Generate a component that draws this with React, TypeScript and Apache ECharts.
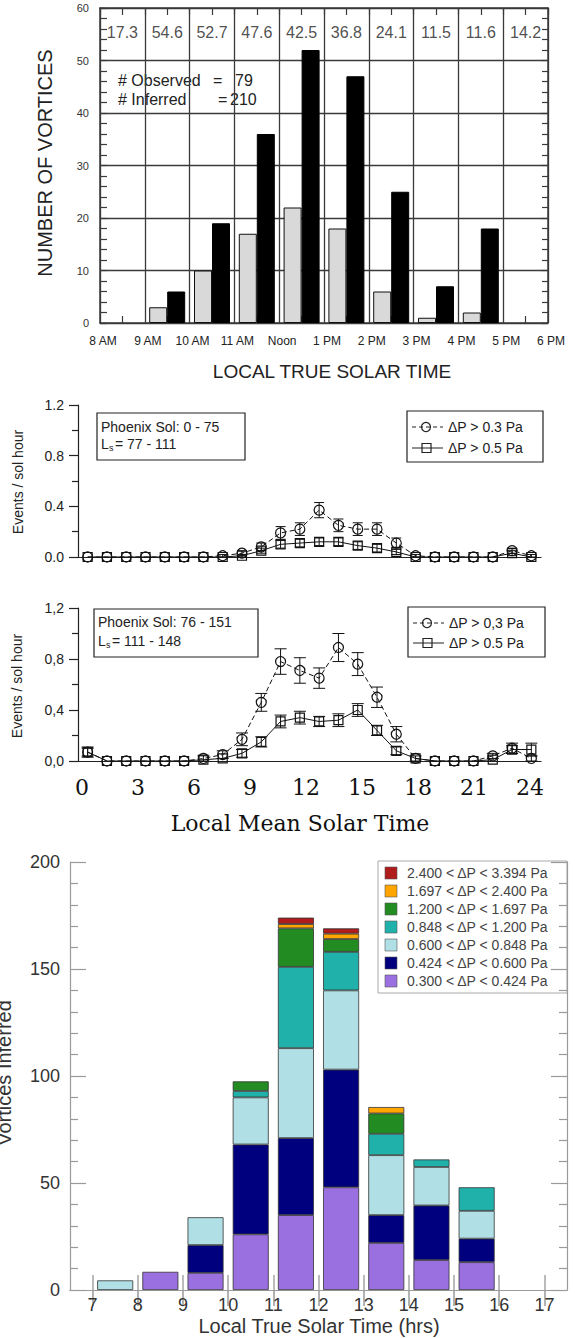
import React, { useEffect, useRef } from "react";
import * as echarts from "echarts";

const FONT = "'Liberation Sans', Arial, Helvetica, sans-serif";
const SERIF = "'DejaVu Serif', serif";

// ---------- Panel 1: hourly vortex counts ----------
const p1HourCats = ["8", "9", "10", "11", "12", "13", "14", "15", "16", "17"];
const p1Observed = [null, 3, 10, 17, 22, 18, 6, 1, 2, null];
const p1Inferred = [null, 6, 19, 36, 52, 47, 25, 7, 18, null];
const p1HourlyRates = ["17.3", "54.6", "52.7", "47.6", "42.5", "36.8", "24.1", "11.5", "11.6", "14.2"];
const p1RateLevel = 55.4;
const p1TickLabels = ["8 AM", "9 AM", "10 AM", "11 AM", "Noon", "1 PM", "2 PM", "3 PM", "4 PM", "5 PM", "6 PM"];

// ---------- Panels 2 & 3: events per sol hour ----------
const lmstHours = [0.5, 1.5, 2.5, 3.5, 4.5, 5.5, 6.5, 7.5, 8.5, 9.5, 10.5, 11.5, 12.5, 13.5, 14.5, 15.5, 16.5, 17.5, 18.5, 19.5, 20.5, 21.5, 22.5, 23.5];
const solA_dp03 = [0, 0, 0, 0, 0, 0, 0, 0.01, 0.03, 0.08, 0.19, 0.22, 0.37, 0.25, 0.22, 0.22, 0.11, 0.01, 0, 0, 0, 0, 0.05, 0.01];
const solA_dp03Err = [0, 0, 0, 0, 0, 0, 0, 0.01, 0.02, 0.03, 0.05, 0.05, 0.06, 0.05, 0.05, 0.05, 0.04, 0.01, 0, 0, 0, 0, 0.02, 0.01];
const solA_dp05 = [0, 0, 0, 0, 0, 0, 0, 0, 0.01, 0.05, 0.1, 0.11, 0.12, 0.12, 0.09, 0.07, 0.04, 0, 0, 0, 0, 0, 0.03, 0];
const solA_dp05Err = [0, 0, 0, 0, 0, 0, 0, 0, 0.01, 0.02, 0.03, 0.03, 0.03, 0.03, 0.03, 0.03, 0.02, 0, 0, 0, 0, 0, 0.02, 0];
const solB_dp03 = [0.07, 0, 0, 0, 0, 0, 0.02, 0.05, 0.17, 0.46, 0.78, 0.71, 0.65, 0.89, 0.76, 0.5, 0.21, 0.02, 0, 0, 0, 0.04, 0.1, 0.02];
const solB_dp03Err = [0.04, 0, 0, 0, 0, 0, 0.02, 0.03, 0.05, 0.07, 0.1, 0.1, 0.08, 0.11, 0.09, 0.08, 0.06, 0.02, 0, 0, 0, 0.02, 0.04, 0.02];
const solB_dp05 = [0.07, 0, 0, 0, 0, 0, 0.01, 0.02, 0.06, 0.15, 0.31, 0.34, 0.31, 0.32, 0.4, 0.24, 0.08, 0.02, 0, 0, 0, 0.01, 0.09, 0.09];
const solB_dp05Err = [0.03, 0, 0, 0, 0, 0, 0, 0, 0.03, 0.04, 0.05, 0.05, 0.04, 0.05, 0.05, 0.04, 0.03, 0, 0, 0, 0, 0, 0.03, 0.05];

// ---------- Panel 4: stacked by pressure drop ----------
const ltstBins = ["7-8", "8-9", "9-10", "10-11", "11-12", "12-13", "13-14", "14-15", "15-16", "16-17"];
const ltstTicks = [7, 8, 9, 10, 11, 12, 13, 14, 15, 16, 17];
const dpLabels = [
  "0.300 < ΔP < 0.424 Pa",
  "0.424 < ΔP < 0.600 Pa",
  "0.600 < ΔP < 0.848 Pa",
  "0.848 < ΔP < 1.200 Pa",
  "1.200 < ΔP < 1.697 Pa",
  "1.697 < ΔP < 2.400 Pa",
  "2.400 < ΔP < 3.394 Pa",
];
const dpColors = ["#9a6fe0", "#00007f", "#b0e0e6", "#20b2aa", "#228b22", "#ffa500", "#b01c1c"];
const dp0300 = [null, 8.5, 8, 26, 35, 48, 22, 14, 13, null];
const dp0424 = [null, null, 13, 42, 36, 55, 13, 25.5, 11, null];
const dp0600 = [4.5, null, 13, 22, 42, 37, 28, 18, 13, null];
const dp0848 = [null, null, null, 3, 38, 18, 10, 3.5, 11, null];
const dp1200 = [null, null, null, 4.5, 18, 6, 9.5, null, null, null];
const dp1697 = [null, null, null, null, 2, 2.5, 3, null, null, null];
const dp2400 = [null, null, null, null, 3, 2.5, null, null, null, null];
const dpSeriesValues = [dp0300, dp0424, dp0600, dp0848, dp1200, dp1697, dp2400];

function errorBars(xi: number, yi: number, ys: number[], errs: number[], cap: number) {
  return {
    type: "custom",
    xAxisIndex: xi,
    yAxisIndex: yi,
    silent: true,
    z: 2,
    encode: { x: 0, y: [1, 2] },
    data: lmstHours
      .map((h, i) => [h, Math.max(0, ys[i] - errs[i]), ys[i] + errs[i], errs[i]])
      .filter((d) => d[3] > 0),
    renderItem: (_p: any, api: any) => {
      const lo = api.coord([api.value(0), api.value(1)]);
      const hi = api.coord([api.value(0), api.value(2)]);
      const st = { stroke: "#111", lineWidth: 1 };
      return {
        type: "group",
        children: [
          { type: "line", shape: { x1: lo[0], y1: lo[1], x2: hi[0], y2: hi[1] }, style: st },
          { type: "line", shape: { x1: lo[0] - cap, y1: lo[1], x2: lo[0] + cap, y2: lo[1] }, style: st },
          { type: "line", shape: { x1: hi[0] - cap, y1: hi[1], x2: hi[0] + cap, y2: hi[1] }, style: st },
        ],
      };
    },
  };
}

function lineSeries(xi: number, yi: number, ys: number[], symbol: string, dashed: boolean) {
  return {
    type: "line",
    xAxisIndex: xi,
    yAxisIndex: yi,
    z: 3,
    silent: true,
    showAllSymbol: true,
    data: lmstHours.map((h, i) => [h, ys[i]]),
    symbol,
    symbolSize: symbol === "circle" ? 10 : 9,
    itemStyle: { color: "rgba(255,255,255,0)", borderColor: "#111", borderWidth: 1.2 },
    lineStyle: { color: "#111", width: 1, type: dashed ? [5, 3] : "solid" },
  };
}

function eventsYAxis(grid: number, comma: boolean) {
  return {
    gridIndex: grid,
    type: "value",
    min: 0,
    max: 1.2,
    interval: 0.4,
    axisLine: { show: true, lineStyle: { color: "#222", width: 1.2 } },
    axisTick: { show: true, inside: false, length: 9, lineStyle: { color: "#222", width: 1.2 } },
    minorTick: { show: true, splitNumber: 2, length: 6, lineStyle: { color: "#222", width: 1.2 } },
    splitLine: { show: false },
    axisLabel: {
      fontSize: 14,
      color: "#222",
      margin: 14,
      fontFamily: FONT,
      formatter: (v: number) => (comma ? v.toFixed(1).replace(".", ",") : v.toFixed(1)),
    },
  };
}

function eventsXAxis(grid: number) {
  return {
    gridIndex: grid,
    type: "value",
    position: "bottom",
    min: 0,
    max: 24,
    axisLine: { show: true, onZero: false, lineStyle: { color: "#222", width: 1.2 } },
    axisTick: { show: false },
    axisLabel: { show: false },
    splitLine: { show: false },
  };
}

function legendBox(x: number, y: number, w: number, h: number, r1: number, r2: number, t1: string, t2: string) {
  const s = { stroke: "#222", lineWidth: 1 };
  return [
    { type: "rect", shape: { x, y, width: w, height: h }, style: { fill: "#fff", stroke: "#222", lineWidth: 1.2 } },
    { type: "line", shape: { x1: x + 5, y1: r1, x2: x + 36, y2: r1 }, style: { ...s, lineDash: [4, 3] } },
    { type: "circle", shape: { cx: x + 19, cy: r1, r: 4.5 }, style: { fill: "rgba(0,0,0,0)", ...s, lineWidth: 1.2 } },
    { type: "text", x: x + 41, y: r1, style: { text: t1, fontSize: 14, fontFamily: FONT, fill: "#222", align: "left", verticalAlign: "middle" } },
    { type: "line", shape: { x1: x + 5, y1: r2, x2: x + 36, y2: r2 }, style: s },
    { type: "rect", shape: { x: x + 15, y: r2 - 4.5, width: 9, height: 9 }, style: { fill: "rgba(0,0,0,0)", ...s, lineWidth: 1.2 } },
    { type: "text", x: x + 41, y: r2, style: { text: t2, fontSize: 14, fontFamily: FONT, fill: "#222", align: "left", verticalAlign: "middle" } },
  ];
}

function infoBox(x: number, y: number, w: number, h: number, r1: number, r2: number, t1: string, t2: string) {
  const ts = { fontSize: 14, fontFamily: FONT, fill: "#222", align: "left", verticalAlign: "middle" };
  return [
    { type: "rect", shape: { x, y, width: w, height: h }, style: { fill: "#fff", stroke: "#222", lineWidth: 1.2 } },
    { type: "text", x: x + 4, y: r1, style: { ...ts, text: t1 } },
    { type: "text", x: x + 4, y: r2, style: { ...ts, text: "L" } },
    { type: "text", x: x + 12, y: r2 + 4, style: { ...ts, fontSize: 9, text: "s" } },
    { type: "text", x: x + 18, y: r2, style: { ...ts, text: t2 } },
  ];
}

export default function App() {
  const ref = useRef<HTMLDivElement>(null);

  useEffect(() => {
    if (!ref.current) return;
    const chart = echarts.init(ref.current, null, { renderer: "svg" });
    const dark = "#3a3a3a";
    const gray = "#9a9a9a";
    const hourPx = 497 / 11;

    const option: any = {
      animation: false,
      textStyle: { fontFamily: FONT },
      grid: [
        { left: 100, top: 8, width: 448, height: 315, outerBoundsMode: "none" },
        { left: 78, top: 405, width: 463, height: 152, outerBoundsMode: "none" },
        { left: 78, top: 608, width: 463, height: 153, outerBoundsMode: "none" },
        { left: 82, top: 762, width: 448, height: 2, outerBoundsMode: "none" },
        { left: 70, top: 862, width: 497, height: 428, outerBoundsMode: "none" },
        { left: 70 + hourPx * 0.5, top: 862, width: hourPx * 10, height: 428, outerBoundsMode: "none" },
      ],
      xAxis: [
        { gridIndex: 0, type: "category", position: "bottom", data: p1HourCats, show: false },
        {
          gridIndex: 0,
          type: "value",
          position: "bottom",
          min: 8,
          max: 18,
          interval: 1,
          axisLine: { show: true, lineStyle: { color: dark, width: 1.5 } },
          axisTick: { show: false, inside: true },
          minorTick: { show: true, splitNumber: 2, length: 7, lineStyle: { color: dark, width: 1.2 } },
          splitLine: { show: true, lineStyle: { color: dark, width: 1.3 } },
          axisLabel: {
            fontSize: 12,
            color: "#222",
            margin: 12,
            padding: [0, 0, 0, 6],
            showMaxLabel: true,
            showMinLabel: true,
            formatter: (v: number) => p1TickLabels[Math.round(v - 8)] ?? "",
          },
        },
        {
          gridIndex: 0,
          type: "value",
          position: "top",
          min: 8,
          max: 18,
          interval: 0.5,
          axisLine: { show: true, lineStyle: { color: dark, width: 1.5 } },
          axisTick: { show: true, inside: true, length: 7, lineStyle: { color: dark, width: 1.2 } },
          axisLabel: { show: false },
          splitLine: { show: false },
        },
        eventsXAxis(1),
        eventsXAxis(2),
        {
          gridIndex: 3,
          type: "value",
          position: "bottom",
          min: 0,
          max: 24,
          interval: 3,
          axisLine: { show: false },
          axisTick: { show: false },
          splitLine: { show: false },
          axisLabel: { fontSize: 22, fontFamily: SERIF, color: "#111", margin: 12 },
        },
        {
          gridIndex: 4,
          type: "value",
          position: "bottom",
          min: 6.5,
          max: 17.5,
          axisLine: { show: true, lineStyle: { color: gray, width: 1.2 } },
          axisTick: { show: true, inside: true, length: 15, customValues: ltstTicks, lineStyle: { color: "#bbb", width: 2 } },
          axisLabel: { customValues: ltstTicks, fontSize: 18, color: "#333", margin: 6 },
          splitLine: { show: false },
        },
        {
          gridIndex: 4,
          type: "value",
          position: "top",
          min: 6.5,
          max: 17.5,
          axisLine: { show: true, lineStyle: { color: gray, width: 1.2 } },
          axisTick: { show: true, inside: true, length: 16, customValues: ltstTicks, lineStyle: { color: gray, width: 1.5 } },
          axisLabel: { show: false },
          splitLine: { show: false },
        },
        { gridIndex: 5, type: "category", position: "bottom", data: ltstBins, show: false },
      ],
      yAxis: [
        {
          gridIndex: 0,
          type: "value",
          position: "left",
          min: 0,
          max: 60,
          interval: 10,
          axisLine: { show: true, lineStyle: { color: dark, width: 1.5 } },
          axisTick: { show: true, inside: true, length: 7, lineStyle: { color: dark, width: 1.2 } },
          minorTick: { show: true, splitNumber: 5, length: 7, lineStyle: { color: dark, width: 1.2 } },
          splitLine: { show: true, lineStyle: { color: dark, width: 1.3 } },
          axisLabel: { fontSize: 11, color: "#333", margin: 11 },
        },
        {
          gridIndex: 0,
          type: "value",
          position: "right",
          min: 0,
          max: 60,
          interval: 10,
          axisLine: { show: true, lineStyle: { color: dark, width: 1.5 } },
          axisTick: { show: true, inside: true, length: 7, lineStyle: { color: dark, width: 1.2 } },
          minorTick: { show: true, splitNumber: 5, length: 6, lineStyle: { color: dark, width: 1.2 } },
          splitLine: { show: false },
          axisLabel: { show: false },
        },
        eventsYAxis(1, false),
        eventsYAxis(2, true),
        { gridIndex: 3, type: "value", show: false },
        {
          gridIndex: 4,
          type: "value",
          position: "left",
          min: 0,
          max: 200,
          interval: 50,
          axisLine: { show: true, lineStyle: { color: gray, width: 1.2 } },
          axisTick: { show: true, inside: true, length: 16, lineStyle: { color: gray, width: 1.2 } },
          minorTick: { show: true, splitNumber: 5, length: 8, lineStyle: { color: gray, width: 1.2 } },
          splitLine: { show: false },
          axisLabel: { fontSize: 18, color: "#333", margin: 10 },
        },
        {
          gridIndex: 4,
          type: "value",
          position: "right",
          min: 0,
          max: 200,
          interval: 50,
          axisLine: { show: true, lineStyle: { color: gray, width: 1.2 } },
          axisTick: { show: true, inside: true, length: 16, lineStyle: { color: gray, width: 1.2 } },
          minorTick: { show: true, splitNumber: 5, length: 8, lineStyle: { color: gray, width: 1.2 } },
          splitLine: { show: false },
          axisLabel: { show: false },
        },
        { gridIndex: 5, type: "value", min: 0, max: 200, show: false },
      ],
      series: [
        {
          type: "bar",
          xAxisIndex: 0,
          yAxisIndex: 0,
          data: p1Observed,
          barWidth: 18,
          barGap: "0%",
          z: 3,
          itemStyle: { color: "#d9d9d9", borderColor: "#111", borderWidth: 1 },
        },
        {
          type: "bar",
          xAxisIndex: 0,
          yAxisIndex: 0,
          data: p1Inferred,
          barWidth: 18,
          barGap: "0%",
          z: 3,
          itemStyle: { color: "#000", borderColor: "#000", borderWidth: 1 },
        },
        {
          type: "scatter",
          xAxisIndex: 0,
          yAxisIndex: 0,
          data: p1HourCats.map((c) => [c, p1RateLevel]),
          symbol: "rect",
          symbolSize: 1,
          itemStyle: { color: "rgba(0,0,0,0)" },
          silent: true,
          label: {
            show: true,
            position: "inside",
            fontSize: 16,
            color: "#222",
            fontFamily: FONT,
            formatter: (p: any) => p1HourlyRates[p.dataIndex],
          },
        },
        errorBars(3, 2, solA_dp03, solA_dp03Err, 5),
        errorBars(3, 2, solA_dp05, solA_dp05Err, 5),
        lineSeries(3, 2, solA_dp03, "circle", true),
        lineSeries(3, 2, solA_dp05, "rect", false),
        errorBars(4, 3, solB_dp03, solB_dp03Err, 6),
        errorBars(4, 3, solB_dp05, solB_dp05Err, 6),
        lineSeries(4, 3, solB_dp03, "circle", true),
        lineSeries(4, 3, solB_dp05, "rect", false),
        ...dpSeriesValues.map((vals, k) => ({
          type: "bar",
          name: dpLabels[k],
          xAxisIndex: 8,
          yAxisIndex: 7,
          stack: "dp",
          barWidth: 36,
          data: vals,
          itemStyle: { color: dpColors[k], borderColor: "#333", borderWidth: 0.8 },
        })),
      ],
      graphic: [
        // Panel 1 annotations
        { type: "text", x: 118, y: 80, style: { text: "# Observed", fontSize: 16, fontFamily: FONT, fill: "#222", verticalAlign: "middle" } },
        { type: "text", x: 213, y: 80, style: { text: "=", fontSize: 16, fontFamily: FONT, fill: "#222", verticalAlign: "middle" } },
        { type: "text", x: 235, y: 80, style: { text: "79", fontSize: 16, fontFamily: FONT, fill: "#222", verticalAlign: "middle" } },
        { type: "text", x: 118, y: 99, style: { text: "# Inferred", fontSize: 16, fontFamily: FONT, fill: "#222", verticalAlign: "middle" } },
        { type: "text", x: 218, y: 99, style: { text: "=", fontSize: 16, fontFamily: FONT, fill: "#222", verticalAlign: "middle" } },
        { type: "text", x: 230, y: 99, style: { text: "210", fontSize: 16, fontFamily: FONT, fill: "#222", verticalAlign: "middle" } },
        { type: "text", x: 45, y: 163, rotation: Math.PI / 2, style: { text: "NUMBER OF VORTICES", fontSize: 20, fontFamily: FONT, fill: "#222", align: "center", verticalAlign: "middle" } },
        { type: "text", x: 332, y: 371, style: { text: "LOCAL TRUE SOLAR TIME", fontSize: 19, fontFamily: FONT, fill: "#222", align: "center", verticalAlign: "middle" } },
        // Panels 2 & 3
        { type: "text", x: 18, y: 482, rotation: Math.PI / 2, style: { text: "Events / sol hour", fontSize: 14, fontFamily: FONT, fill: "#222", align: "center", verticalAlign: "middle" } },
        { type: "text", x: 17, y: 686, rotation: Math.PI / 2, style: { text: "Events / sol hour", fontSize: 14, fontFamily: FONT, fill: "#222", align: "center", verticalAlign: "middle" } },
        ...infoBox(97, 413, 148, 47, 427, 444, "Phoenix Sol: 0 - 75", "= 77 - 111"),
        ...legendBox(407, 411, 136, 51, 427, 448, "ΔP > 0.3 Pa", "ΔP > 0.5 Pa"),
        ...infoBox(94, 609, 164, 48, 622, 641, "Phoenix Sol: 76 - 151", "= 111 - 148"),
        ...legendBox(408, 607, 137, 50, 623, 643, "ΔP > 0,3 Pa", "ΔP > 0.5 Pa"),
        { type: "text", x: 300, y: 823, style: { text: "Local Mean Solar Time", fontSize: 22, fontFamily: SERIF, fill: "#111", align: "center", verticalAlign: "middle" } },
        // Panel 4
        { type: "rect", shape: { x: 378, y: 861, width: 189, height: 132 }, style: { fill: "#fff", stroke: "#aaa", lineWidth: 1 } },
        ...dpLabels
          .slice()
          .reverse()
          .flatMap((lab, r) => {
            const k = dpLabels.length - 1 - r;
            const cy = 873 + r * 18;
            return [
              { type: "rect", shape: { x: 385, y: cy - 6, width: 12, height: 12 }, style: { fill: dpColors[k], stroke: "#555", lineWidth: 0.6 } },
              { type: "text", x: 407, y: cy, style: { text: lab, fontSize: 14, fontFamily: FONT, fill: "#444", verticalAlign: "middle" } },
            ];
          }),
        { type: "text", x: 4, y: 1073, rotation: Math.PI / 2, style: { text: "Vortices Inferred", fontSize: 20, fontFamily: FONT, fill: "#333", align: "center", verticalAlign: "middle" } },
        { type: "text", x: 319, y: 1326, style: { text: "Local True Solar Time (hrs)", fontSize: 20, fontFamily: FONT, fill: "#333", align: "center", verticalAlign: "middle" } },
      ],
    };

    chart.setOption(option);
    return () => chart.dispose();
  }, []);

  return <div ref={ref} style={{ position: "absolute", left: 0, top: 0, width: 575, height: 1338 }} />;
}
